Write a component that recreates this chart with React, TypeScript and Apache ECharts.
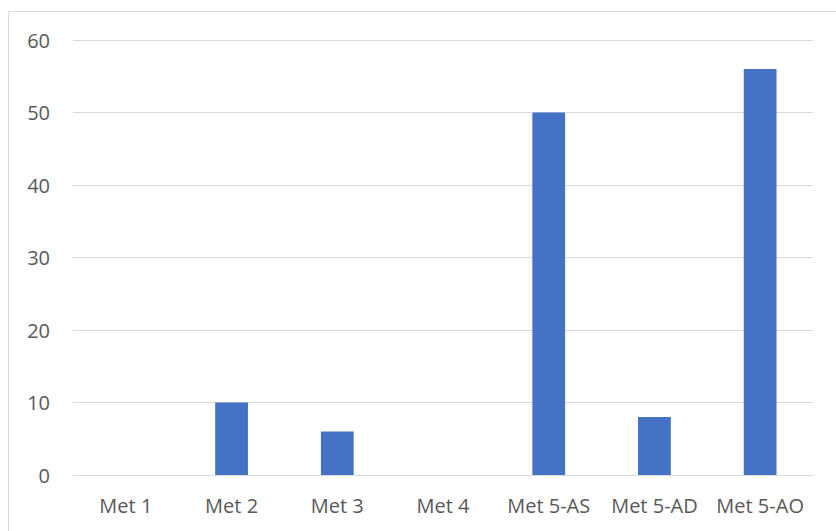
import React, { useEffect, useRef } from "react";
import * as echarts from "echarts";

const categories = ["Met 1", "Met 2", "Met 3", "Met 4", "Met 5-AS", "Met 5-AD", "Met 5-AO"];
const values = [0, 10, 6, 0, 50, 8, 56];
const yTicks = { min: 0, max: 60, interval: 10 };

export default function App() {
  const ref = useRef<HTMLDivElement>(null);

  useEffect(() => {
    if (!ref.current) return;
    const chart = echarts.init(ref.current, undefined, { renderer: "svg" });
    const font = "'Open Sans', 'Noto Sans', sans-serif";
    chart.setOption({
      animation: false,
      backgroundColor: "#ffffff",
      graphic: [
        {
          type: "rect",
          shape: { x: 8.5, y: 11.5, width: 840, height: 540 },
          style: { fill: "none", stroke: "#d9d9d9", lineWidth: 1 },
          silent: true,
        },
      ],
      grid: { left: 73, right: 23, top: 40, bottom: 56, containLabel: false },
      xAxis: {
        type: "category",
        data: categories,
        axisLine: { show: true, lineStyle: { color: "#d9d9d9", width: 1 } },
        axisTick: { show: false },
        axisLabel: {
          color: "#595959",
          fontSize: 20,
          fontFamily: font,
          margin: 20,
          interval: 0,
          hideOverlap: false,
        },
      },
      yAxis: {
        type: "value",
        min: yTicks.min,
        max: yTicks.max,
        interval: yTicks.interval,
        axisLine: { show: false },
        axisTick: { show: false },
        axisLabel: { color: "#595959", fontSize: 20, fontFamily: font, margin: 23 },
        splitLine: { lineStyle: { color: "#d9d9d9", width: 1 } },
      },
      series: [
        {
          type: "bar",
          data: values,
          barWidth: "31%",
          itemStyle: { color: "#4472c4" },
        },
      ],
    });
    return () => chart.dispose();
  }, []);

  return (
    <div
      ref={ref}
      style={{ position: "fixed", left: 0, top: 0, width: 836, height: 531 }}
    />
  );
}
